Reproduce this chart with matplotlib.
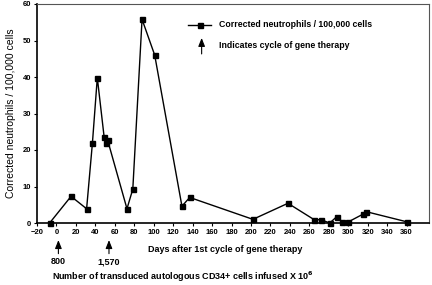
import matplotlib
matplotlib.use('Agg')
import matplotlib.pyplot as plt

plt.rcParams['font.family'] = ['Liberation Sans', 'DejaVu Sans']
plt.rcParams['font.weight'] = 'bold'

days = [-7, 15, 31, 37, 42, 49, 51, 52.5, 72.5, 78.5, 88, 101, 129, 137,
        202, 238, 265, 272, 281, 288, 294, 300, 315, 318.5, 360.5]
neutrophils = [0, 7.3, 3.9, 22.0, 39.8, 23.6, 22.0, 22.8, 3.9, 9.3, 55.8, 46.0,
               4.6, 7.0, 1.0, 5.4, 0.9, 0.9, 0.0, 1.7, 0.3, 0.3, 2.4, 3.1, 0.3]

cycle_days = [2, 54]
cycle_labels = ['800', '1,570']

xticks = list(range(-20, 361, 20))
yticks = list(range(0, 61, 10))

W, H = 432, 285
fig = plt.figure(figsize=(W / 100, H / 100), dpi=100)
ax = fig.add_axes([37 / W, 1 - 223 / H, (429 - 37) / W, (223 - 4) / H])

ax.plot(days, neutrophils, color='black', lw=1.0, marker='s', ms=3.6,
        label='Corrected neutrophils / 100,000 cells', clip_on=False)

ax.set_xlim(-20, 383)
ax.set_ylim(0, 60)
ax.set_xticks(xticks)
ax.set_yticks(yticks)
ax.tick_params(labelsize=5.5, length=2.5, width=0.8, pad=1.5)
for s in ['left', 'bottom']:
    ax.spines[s].set_linewidth(1.2)
for s in ['top', 'right']:
    ax.spines[s].set_linewidth(0.8)
    ax.spines[s].set_color('#555555')

ax.set_ylabel('Corrected neutrophils / 100,000 cells', fontsize=7.5, labelpad=5)

arrow_style = dict(arrowstyle='-|>,head_length=0.5,head_width=0.2',
                   color='black', lw=0.8, mutation_scale=10,
                   shrinkA=0, shrinkB=0)

# arrows for cycles of gene therapy below the axis
for d, lab in zip(cycle_days, cycle_labels):
    ax.annotate('', xy=(d, -0.078), xytext=(d, -0.14),
                xycoords=('data', 'axes fraction'),
                textcoords=('data', 'axes fraction'),
                arrowprops=arrow_style)
    ax.text(d, -0.178, lab, transform=ax.get_xaxis_transform(),
            ha='center', va='center', fontsize=6.5)

fig.text(225 / W, 1 - 250 / H, 'Days after 1st cycle of gene therapy',
         ha='center', va='center', fontsize=6.5)
fig.text(183 / W, 1 - 277 / H,
         'Number of transduced autologous CD34+ cells infused X 10$^{\\mathbf{6}}$',
         ha='center', va='center', fontsize=6.5)

# legend drawn by hand
ax.plot([0.385, 0.443], [0.906, 0.906], transform=ax.transAxes,
        color='black', lw=1.0)
ax.plot([0.415], [0.906], transform=ax.transAxes, color='black', marker='s', ms=3.6)
ax.text(0.464, 0.906, 'Corrected neutrophils / 100,000 cells',
        transform=ax.transAxes, va='center', fontsize=6.3)
ax.annotate('', xy=(0.42, 0.845), xytext=(0.42, 0.772),
            xycoords='axes fraction', arrowprops=arrow_style)
ax.text(0.464, 0.81, 'Indicates cycle of gene therapy',
        transform=ax.transAxes, va='center', fontsize=6.3)

fig.savefig('out.png', dpi=100)
